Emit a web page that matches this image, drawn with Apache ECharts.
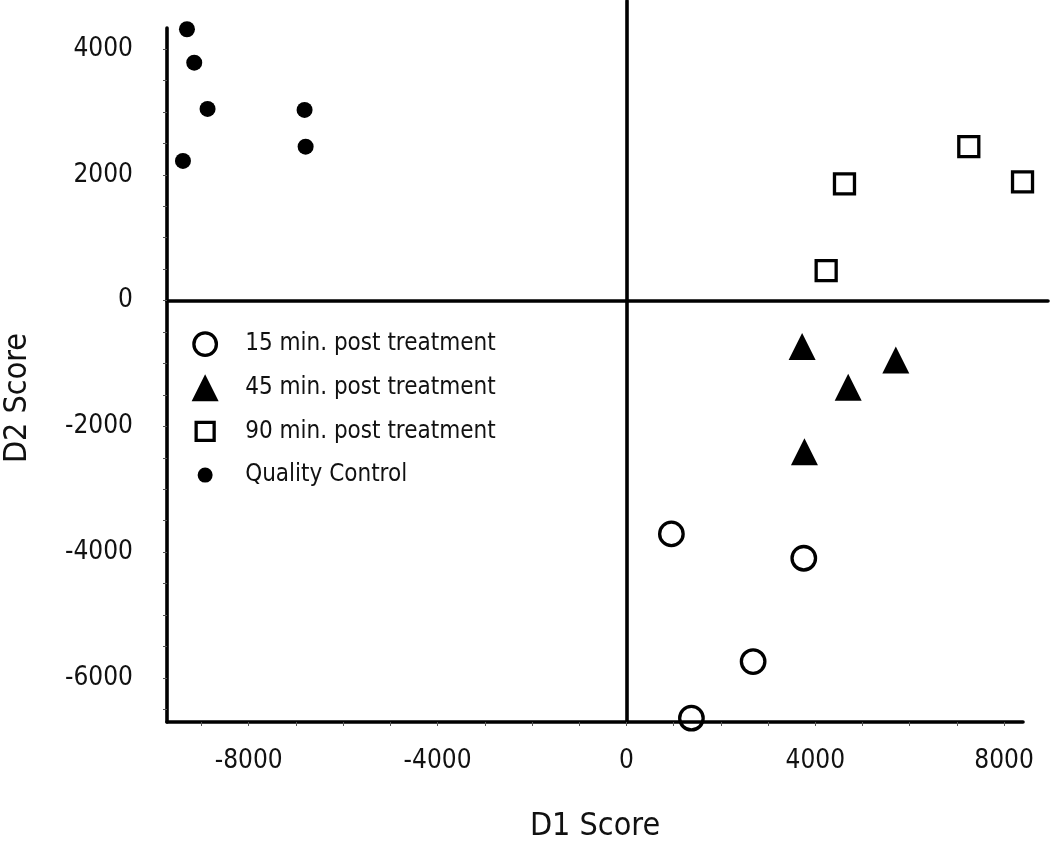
<!DOCTYPE html>
<html>
<head>
<meta charset="utf-8">
<title>D1 / D2 Score</title>
<script src="https://cdn.jsdelivr.net/npm/echarts@6/dist/echarts.min.js"></script>
<style>
  html, body { margin: 0; padding: 0; background: #fff; }
  #main { width: 1050px; height: 841px; }
</style>
</head>
<body>
<div id="main"></div>
<script type="text/javascript">
// 数据
var min15X = [953, 3757, 2684, 1377];
var min15Y = [-3709, -4096, -5739, -6639];
var min45X = [3722, 5706, 4697, 3771];
var min45Y = [-731, -943, -1377, -2401];
var min90X = [4619, 7252, 8390, 4231];
var min90Y = [1855, 2448, 1887, 477];
var qcX = [-9307, -9153, -8871, -9392, -6816, -6794];
var qcY = [4315, 3784, 3048, 2221, 3032, 2448];

var seriesNames = ['15 min. post treatment', '45 min. post treatment', '90 min. post treatment', 'Quality Control'];

// tick labels
var xLabelValues = [-8000, -4000, 0, 4000, 8000];
var xTickValues = [-9000, -8000, -7000, -6000, -5000, -4000, -3000, -2000, -1000, 0, 1000, 2000, 3000, 4000, 5000, 6000, 7000, 8000];
var yLabelValues = [-6000, -4000, -2000, 0, 2000, 4000];
var yTickValues = [-6500, -6000, -5500, -5000, -4500, -4000, -3500, -3000, -2500, -2000, -1500, -1000, -500, 0, 500, 1000, 1500, 2000, 2500, 3000, 3500, 4000];

var X_MIN = -9730, X_MAX = 8400, Y_MIN = -6700, Y_MAX = 4335;

function pairs(xs, ys) {
    return xs.map(function (x, i) { return [x, ys[i]]; });
}
function plain(v) { return String(v); }

var FONT = "'Liberation Sans Narrow', 'DejaVu Sans Condensed', 'Arial Narrow', sans-serif";

// plot box, and the wider box that holds the two zero lines
var g0 = { left: 167, right: 27, top: 28, bottom: 119 };
var g1 = { left: 167, right: 2, top: 1, bottom: 119 };
var W = 1050, H = 841;
var pxX = (W - g0.left - g0.right) / (X_MAX - X_MIN);
var pxY = (H - g0.top - g0.bottom) / (Y_MAX - Y_MIN);
var X1_MAX = X_MIN + (W - g1.left - g1.right) / pxX;
var Y1_MAX = Y_MIN + (H - g1.top - g1.bottom) / pxY;

var hollow = { color: 'rgba(255,255,255,0)', borderColor: '#000', borderWidth: 3.3 };

var myChart = echarts.init(document.getElementById('main'));

var option = {
    backgroundColor: '#fff',
    animation: false,
    textStyle: { fontFamily: FONT, color: '#111' },
    grid: [
        { left: g0.left, right: g0.right, top: g0.top, bottom: g0.bottom, outerBoundsMode: 'none', containLabel: false },
        { left: g1.left, right: g1.right, top: g1.top, bottom: g1.bottom, outerBoundsMode: 'none', containLabel: false }
    ],
    legend: {
        orient: 'vertical',
        left: 190,
        top: 329,
        padding: 0,
        itemWidth: 70,
        itemHeight: 27,
        itemGap: 15,
        textStyle: { fontFamily: FONT, fontSize: 24, color: '#111' },
        data: [
            { name: seriesNames[0], icon: 'path://M0,0 M27,27 M2.25,13.5 a11.25,11.25 0 1,0 22.5,0 a11.25,11.25 0 1,0 -22.5,0 Z', itemStyle: hollow },
            { name: seriesNames[1], icon: 'path://M13.5,0 L27,27 L0,27 Z' },
            { name: seriesNames[2], icon: 'path://M0,0 M27,27 M4.5,4.5 L22.5,4.5 L22.5,22.5 L4.5,22.5 Z', itemStyle: hollow },
            { name: seriesNames[3], icon: 'path://M0,0 M27,27 M6,13.5 a7.5,7.5 0 1,0 15,0 a7.5,7.5 0 1,0 -15,0 Z' }
        ]
    },
    xAxis: [
        {
            type: 'value', gridIndex: 0, min: X_MIN, max: X_MAX,
            name: 'D1 Score', nameLocation: 'middle', nameGap: 89,
            nameTextStyle: { fontFamily: FONT, fontSize: 32, color: '#111' },
            axisLine: { onZero: false, lineStyle: { color: '#000', width: 3.6 } },
            axisTick: { show: true, length: 4, customValues: xTickValues, lineStyle: { color: '#555', width: 1 } },
            axisLabel: { customValues: xLabelValues, formatter: plain, margin: 26, fontFamily: FONT, fontSize: 26, color: '#111' },
            splitLine: { show: false }
        },
        {
            type: 'value', gridIndex: 1, min: X_MIN, max: X1_MAX,
            axisLine: { onZero: true, lineStyle: { color: '#000', width: 3.6 } },
            axisTick: { show: false }, axisLabel: { show: false }, splitLine: { show: false }
        }
    ],
    yAxis: [
        {
            type: 'value', gridIndex: 0, min: Y_MIN, max: Y_MAX,
            name: 'D2 Score', nameLocation: 'middle', nameGap: 133,
            nameTextStyle: { fontFamily: FONT, fontSize: 32, color: '#111', padding: [0, 46, 0, 0] },
            axisLine: { show: true, onZero: false, lineStyle: { color: '#000', width: 3.6 } },
            axisTick: { show: true, length: 4, customValues: yTickValues, lineStyle: { color: '#555', width: 1 } },
            axisLabel: { customValues: yLabelValues, formatter: plain, margin: 34, fontFamily: FONT, fontSize: 26, color: '#111' },
            splitLine: { show: false }
        },
        {
            type: 'value', gridIndex: 1, min: Y_MIN, max: Y1_MAX,
            axisLine: { show: true, onZero: true, lineStyle: { color: '#000', width: 3.6 } },
            axisTick: { show: false }, axisLabel: { show: false }, splitLine: { show: false }
        }
    ],
    series: [
        {
            name: seriesNames[0], type: 'scatter', xAxisIndex: 0, yAxisIndex: 0,
            symbol: 'circle', symbolSize: 23.5,
            itemStyle: { color: 'rgba(255,255,255,0)', borderColor: '#000', borderWidth: 3.3, opacity: 1 },
            data: pairs(min15X, min15Y)
        },
        {
            name: seriesNames[1], type: 'scatter', xAxisIndex: 0, yAxisIndex: 0,
            symbol: 'triangle', symbolSize: 27,
            itemStyle: { color: '#000', opacity: 1 },
            data: pairs(min45X, min45Y)
        },
        {
            name: seriesNames[2], type: 'scatter', xAxisIndex: 0, yAxisIndex: 0,
            symbol: 'rect', symbolSize: 20,
            itemStyle: { color: 'rgba(255,255,255,0)', borderColor: '#000', borderWidth: 3.3, opacity: 1 },
            data: pairs(min90X, min90Y)
        },
        {
            name: seriesNames[3], type: 'scatter', xAxisIndex: 0, yAxisIndex: 0,
            symbol: 'circle', symbolSize: 16,
            itemStyle: { color: '#000', opacity: 1 },
            data: pairs(qcX, qcY)
        }
    ]
};

myChart.setOption(option);
</script>
</body>
</html>
